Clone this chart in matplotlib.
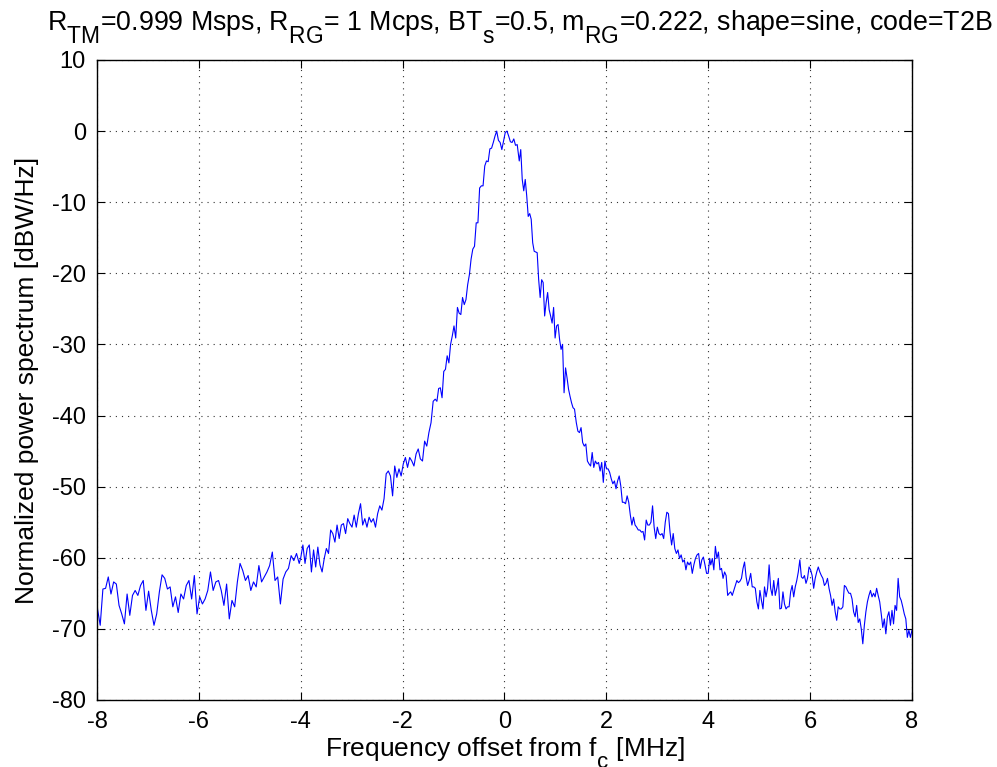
import numpy as np
import matplotlib
matplotlib.use('Agg')
import matplotlib.pyplot as plt
import matplotlib._mathtext as mt

plt.rcParams['font.family'] = ['Liberation Sans', 'DejaVu Sans']
plt.rcParams['mathtext.fontset'] = 'custom'
plt.rcParams['mathtext.rm'] = 'Liberation Sans'
plt.rcParams['mathtext.it'] = 'Liberation Sans:italic'
plt.rcParams['axes.unicode_minus'] = False
# MATLAB-like subscripts: bigger and lower than the mathtext default
mt.SHRINK_FACTOR = 0.85
mt.FontConstantsBase.sub1 = 0.9

# spectrum, in pieces: (start MHz, end MHz, dB values)
seg_a_range = (-7.99, -4.03)
seg_a = [-67.2, -69.5, -64.4, -64.3, -62.7, -65.1, -63.4, -63.7, -66.7, -67.9,
         -69.3, -65.1, -68.1, -65.3, -64.6, -65.3, -63.9, -63.2, -67.4, -64.7,
         -67.4, -69.5, -67.9, -64.8, -62.4, -62.9, -64.4, -64.1, -66.9, -65.5,
         -67.7, -65.1, -65.8, -63.9, -63.2, -65.8, -62.5, -67.9, -65.5, -66.5,
         -65.8, -64.6, -62.0, -64.6, -63.4, -63.2, -64.6, -66.7, -63.7, -68.6,
         -66.0, -66.9, -63.4, -60.8, -61.8, -63.2, -62.5, -64.6, -63.4, -64.1,
         -61.1, -63.4, -62.7, -62.0, -61.1, -59.2, -63.2, -62.7, -66.5, -63.0,
         -62.0, -61.5, -59.7, -60.4, -59.4, -60.8]

seg_b_range = (-4.0, -1.40)
seg_b = [-60.0, -58.2, -60.8, -58.7, -58.2, -62.0, -58.9, -61.3, -58.5, -61.0,
         -62.0, -60.1, -58.7, -59.4, -56.1, -56.6, -57.8, -55.4, -57.3, -55.4,
         -55.2, -56.6, -54.5, -55.2, -55.7, -54.0, -55.7, -53.8, -52.4, -55.4,
         -54.5, -55.7, -54.3, -55.0, -54.5, -55.7, -53.8, -52.7, -53.3, -51.7,
         -48.2, -47.8, -48.5, -51.3, -47.1, -48.7, -47.5, -48.5, -46.8, -45.9,
         -47.3, -45.9, -46.4, -47.1, -45.4, -44.7, -46.1, -46.4, -43.6, -44.3,
         -42.4, -41.0, -38.0]

seg_c_range = (-1.36, 0.25)
seg_c = [-37.7, -38.0, -36.2, -36.1, -37.5, -33.8, -33.5, -31.6, -32.6, -30.0,
         -28.8, -27.4, -29.1, -24.8, -25.6, -25.8, -23.4, -24.4, -23.7, -21.6,
         -20.2, -18.0, -16.6, -16.2, -12.9, -12.9, -8.0, -7.7, -7.7, -4.9,
         -4.2, -4.3, -2.5, -2.4, -1.6, -0.7, 0.0, -1.3, -1.6, -2.6,
         -1.4, -0.2, 0.0, -0.7, -1.5, -1.6, -1.1, -2.0, -1.9]

seg_d_range = (0.29, 1.375)
seg_d = [-4.2, -2.6, -6.8, -8.4, -6.8, -9.1, -12.0, -11.6, -12.4, -15.7,
         -16.9, -17.0, -17.1, -20.9, -23.4, -20.9, -21.3, -26.0, -24.1, -22.7,
         -25.1, -26.0, -27.0, -24.8, -29.1, -27.4, -27.2, -29.3, -30.7, -30.0,
         -36.8, -33.3, -34.7, -36.3, -37.3, -38.2, -38.9, -39.1]

seg_e_range = (1.41, 4.03)
seg_e = [-41.0, -42.2, -42.4, -41.7, -43.8, -44.3, -44.0, -46.4, -46.8, -47.1,
         -45.2, -47.3, -46.4, -46.8, -46.6, -47.8, -46.6, -49.4, -46.4, -47.5,
         -47.5, -48.0, -48.9, -49.6, -49.2, -50.3, -49.2, -48.5, -49.9, -52.2,
         -52.2, -52.4, -51.3, -52.2, -54.0, -55.4, -54.3, -55.4, -55.7, -56.1,
         -56.1, -56.4, -56.3, -57.5, -54.7, -55.4, -55.4, -55.0, -52.7, -55.7,
         -57.3, -55.7, -56.6, -56.8, -56.6, -57.3, -55.0, -53.6, -53.8, -56.4,
         -58.2, -56.6, -58.7, -59.4, -58.9, -60.1, -59.6, -60.6, -60.3, -61.7,
         -60.6, -61.0, -60.6, -62.2, -61.0, -60.1, -59.6, -59.4, -61.5, -60.3,
         -59.9, -61.0, -62.2, -62.2, -60.1]

seg_f_range = (4.05, 8.0)
seg_f = [-61.0, -60.1, -61.7, -58.4, -60.1, -59.2, -61.7, -61.5, -62.9, -62.0,
         -62.5, -65.3, -65.0, -64.8, -65.3, -64.6, -63.9, -63.2, -63.5, -63.3,
         -62.9, -61.5, -60.6, -62.7, -63.9, -63.2, -62.2, -64.1, -64.1, -64.3,
         -66.2, -67.2, -64.6, -66.0, -67.2, -64.1, -65.5, -64.3, -61.0, -64.3,
         -65.3, -63.2, -65.3, -64.3, -62.9, -67.2, -67.1, -64.8, -66.5, -67.2,
         -66.9, -66.9, -64.8, -63.9, -65.5, -64.1, -63.2, -62.0, -60.3, -62.7,
         -62.9, -62.5, -63.6, -62.9, -61.3, -61.7, -62.5, -64.3, -62.9, -62.0,
         -61.3, -62.0, -62.5, -62.9, -63.9, -63.6, -62.9, -64.3, -65.3, -66.7,
         -65.8, -67.6, -68.8, -66.9, -67.2, -67.2, -66.9, -63.9, -64.1, -64.6,
         -65.0, -65.0, -65.8, -67.6, -68.3, -66.7, -69.1, -68.6, -70.0, -72.1,
         -69.5, -67.6, -66.2, -65.3, -64.6, -65.5, -65.0, -65.5, -64.3, -65.3,
         -66.2, -67.9, -69.8, -68.6, -70.7, -68.3, -67.6, -69.5, -67.4, -69.3,
         -66.7, -67.4, -62.9, -65.5, -66.0, -66.9, -67.9, -68.6, -71.2, -70.2,
         -71.2, -70.2]

segments = [(seg_a_range, seg_a), (seg_b_range, seg_b), (seg_c_range, seg_c),
            (seg_d_range, seg_d), (seg_e_range, seg_e), (seg_f_range, seg_f)]

freq = np.concatenate([np.linspace(r[0], r[1], len(v)) for r, v in segments])
power = np.concatenate([np.array(v) for r, v in segments])

title = (r'R$_{\rm TM}$=0.999 Msps, R$_{\rm RG}$= 1 Mcps, BT$_{\rm s}$=0.5, '
         r'm$_{\rm RG}$=0.222, shape=sine, code=T2B')

fig = plt.figure(figsize=(9.97, 7.67), dpi=100)
ax = fig.add_axes([0.0973, 0.0874, 0.8174, 0.8344])

ax.plot(freq, power, color='#0000ff', linewidth=0.8)

ax.set_xlim(-8, 8)
ax.set_ylim(-80, 10)
ax.set_xticks(np.arange(-8, 9, 2))
ax.set_yticks(np.arange(-80, 11, 10))
ax.grid(True, color='0.2', linestyle=(0, (1, 4.5)), linewidth=0.8)
ax.tick_params(direction='in', top=True, right=True, length=6, width=0.8,
               labelsize=17, pad=8)
for s in ax.spines.values():
    s.set_linewidth(1.0)

ax.set_title(title, fontsize=19.3, pad=21, x=0.519)
ax.set_xlabel(r'Frequency offset from f$_{\rm c}$ [MHz]', fontsize=19, labelpad=2)
ax.set_ylabel('Normalized power spectrum [dBW/Hz]', fontsize=19, labelpad=9)

fig.savefig('out.png', dpi=100)
